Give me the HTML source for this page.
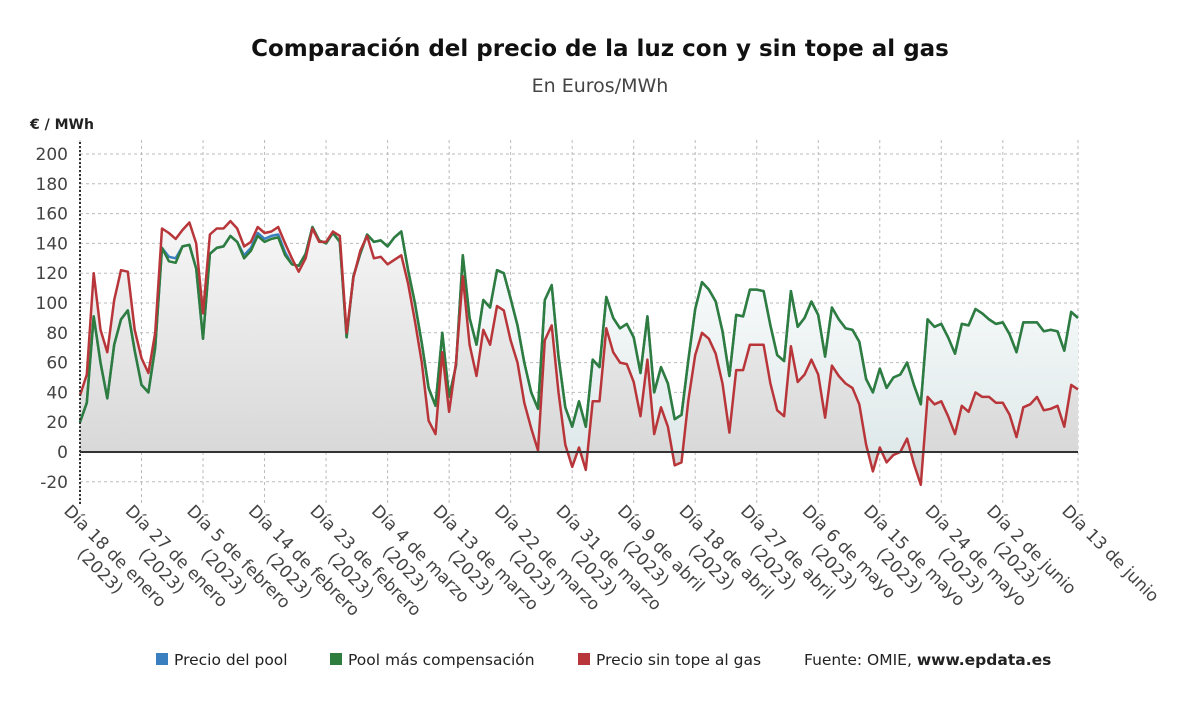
<!DOCTYPE html>
<html><head><meta charset="utf-8">
<style>
body{margin:0;background:#fff;font-family:"DejaVu Sans","Liberation Sans",sans-serif;}
svg{display:block}
</style></head>
<body>
<svg id="chart" width="1200" height="705" viewBox="0 0 1200 705">
<defs>
<linearGradient id="gfill" x1="0" y1="0" x2="0" y2="1">
<stop offset="0" stop-color="#ffffff"/><stop offset="1" stop-color="#dfe9ea"/>
</linearGradient>
<linearGradient id="rfill" x1="0" y1="0" x2="0" y2="1">
<stop offset="0" stop-color="#f6f6f6"/><stop offset="1" stop-color="#d4d4d4"/>
</linearGradient>
</defs>
<text x="600" y="56" text-anchor="middle" font-size="23" font-weight="bold" fill="#111">Comparación del precio de la luz con y sin tope al gas</text>
<text x="600" y="92" text-anchor="middle" font-size="19" fill="#444">En Euros/MWh</text>
<text x="30" y="129" font-size="14" font-weight="bold" fill="#222">€ / MWh</text>
<g id="grid"></g>
<g id="areas"></g>
<g id="lines"></g>
<g id="axes"></g>
<g id="legend" font-size="15.5" fill="#222">
<rect x="156" y="653" width="12" height="12" fill="#3a7fbf"/>
<text x="174" y="665">Precio del pool</text>
<rect x="330" y="653" width="12" height="12" fill="#2e7d3e"/>
<text x="348" y="665">Pool más compensación</text>
<rect x="578" y="653" width="12" height="12" fill="#b8363a"/>
<text x="596" y="665">Precio sin tope al gas</text>
<text x="804" y="665">Fuente: OMIE, <tspan font-weight="bold">www.epdata.es</tspan></text>
</g>
</svg>
<script>
const yTicks=[200,180,160,140,120,100,80,60,40,20,0,-20];
const tickDays=[0,9,18,27,36,45,54,63,72,81,90,99,108,117,126,135,146];
const tickLabels=["Día 18 de enero","Día 27 de enero","Día 5 de febrero","Día 14 de febrero","Día 23 de febrero","Día 4 de marzo","Día 13 de marzo","Día 22 de marzo","Día 31 de marzo","Día 9 de abril","Día 18 de abril","Día 27 de abril","Día 6 de mayo","Día 15 de mayo","Día 24 de mayo","Día 2 de junio","Día 13 de junio"];
const tickYears=["(2023)","(2023)","(2023)","(2023)","(2023)","(2023)","(2023)","(2023)","(2023)","(2023)","(2023)","(2023)","(2023)","(2023)","(2023)","(2023)",""];
const compensated=[20,33,91,60,36,72,89,95,68,45,40,70,137,128,127,138,139,123,76,133,137,138,145,141,130,135,145,141,143,144,132,126,125,133,151,142,140,147,141,77,118,133,146,141,142,138,144,148,122,100,73,43,31,80,37,58,132,90,72,102,97,122,120,103,85,60,40,29,102,112,64,30,17,34,17,62,57,104,90,83,86,77,53,91,40,57,46,22,25,62,96,114,109,101,81,51,92,91,109,109,108,85,65,61,108,84,90,101,92,64,97,89,83,82,74,49,40,56,43,50,52,60,45,32,89,84,86,77,66,86,85,96,93,89,86,87,79,67,87,87,87,81,82,81,68,94,90];
const pool=[20,33,91,60,36,72,89,95,68,45,40,70,137,131,130,138,139,123,76,133,137,138,145,141,132,137,147,143,145,146,134,126,125,133,151,142,140,147,141,77,118,133,146,141,142,138,144,148,122,100,73,43,31,80,37,58,132,90,72,102,97,122,120,103,85,60,40,29,102,112,64,30,17,34,17,62,57,104,90,83,86,77,53,91,40,57,46,22,25,62,96,114,109,101,81,51,92,91,109,109,108,85,65,61,108,84,90,101,92,64,97,89,83,82,74,49,40,56,43,50,52,60,45,32,89,84,86,77,66,86,85,96,93,89,86,87,79,67,87,87,87,81,82,81,68,94,90];
const noCap=[38,52,120,82,67,102,122,121,82,63,53,80,150,147,143,149,154,140,93,146,150,150,155,150,138,141,151,147,148,151,140,130,121,130,150,141,141,148,145,80,117,135,145,130,131,126,129,132,113,88,60,21,12,67,27,60,118,72,51,82,72,98,95,75,60,33,16,1,75,85,40,5,-10,3,-12,34,34,83,67,60,59,47,24,62,12,30,17,-9,-7,35,65,80,76,66,46,13,55,55,72,72,72,46,28,24,71,47,52,62,52,23,58,51,46,43,32,5,-13,3,-7,-2,0,9,-8,-22,37,32,34,24,12,31,27,40,37,37,33,33,25,10,30,32,37,28,29,31,17,45,42];

const NS="http://www.w3.org/2000/svg";
const X0=80,X1=1078,Y0=452,PX20=29.8,NDAYS=146,YBOT=505;
const xs=d=>X0+(X1-X0)*d/NDAYS;
const ys=v=>Y0-v*PX20/20;
function mk(tag,attrs,parent){const e=document.createElementNS(NS,tag);for(const k in attrs)e.setAttribute(k,attrs[k]);parent.appendChild(e);return e;}
const grid=document.getElementById('grid'),areas=document.getElementById('areas'),lines=document.getElementById('lines'),axes=document.getElementById('axes');
yTicks.forEach(v=>{
  const l=mk('line',{x1:X0,x2:X1,y1:ys(v),y2:ys(v),stroke:'#bbb','stroke-dasharray':'3,3','stroke-width':1},grid);
  
  
  const t=mk('text',{x:68,y:ys(v)+6,'text-anchor':'end','font-size':17,fill:'#444'},axes);
  t.textContent=v;
  
  
});
tickDays.forEach((d,i)=>{
  const x=xs(d);
  const l=mk('line',{x1:x,x2:x,y1:140,y2:YBOT,stroke:'#bbb','stroke-dasharray':'3,3','stroke-width':1},grid);
  
  
  const g=mk('g',{transform:`translate(${x-17},${YBOT+7}) rotate(45)`,'font-size':17,fill:'#444'},axes);
  
  
  const t1=mk('text',{x:0,y:0},g);t1.textContent=tickLabels[i];
  if(tickYears[i]){const w=t1.getComputedTextLength();const t2=mk('text',{x:w/2,y:21,'text-anchor':'middle'},g);t2.textContent=tickYears[i];}
});
function pathOf(arr){return arr.map((v,i)=>(i?'L':'M')+xs(i).toFixed(1)+','+ys(v).toFixed(1)).join('');}
function areaOf(arr){return pathOf(arr)+`L${xs(arr.length-1)},${Y0}L${X0},${Y0}Z`;}
const a1=mk('path',{d:areaOf(compensated),fill:'url(#gfill)'},areas);


const a2=mk('path',{d:areaOf(noCap),fill:'url(#rfill)'},areas);


const lp=mk('path',{d:pathOf(pool),fill:'none',stroke:'#3a7fbf','stroke-width':2.5,'stroke-linejoin':'round'},lines);


const lg=mk('path',{d:pathOf(compensated),fill:'none',stroke:'#2e7d3e','stroke-width':2.5,'stroke-linejoin':'round'},lines);


const lr=mk('path',{d:pathOf(noCap),fill:'none',stroke:'#b8363a','stroke-width':2.5,'stroke-linejoin':'round'},lines);


const z=mk('line',{x1:X0,x2:X1,y1:Y0,y2:Y0,stroke:'#333','stroke-width':2},axes);


const ya=mk('line',{x1:X0,x2:X0,y1:142,y2:YBOT,stroke:'#333','stroke-width':2,'stroke-dasharray':'2,2'},axes);


</script>
</body></html>
